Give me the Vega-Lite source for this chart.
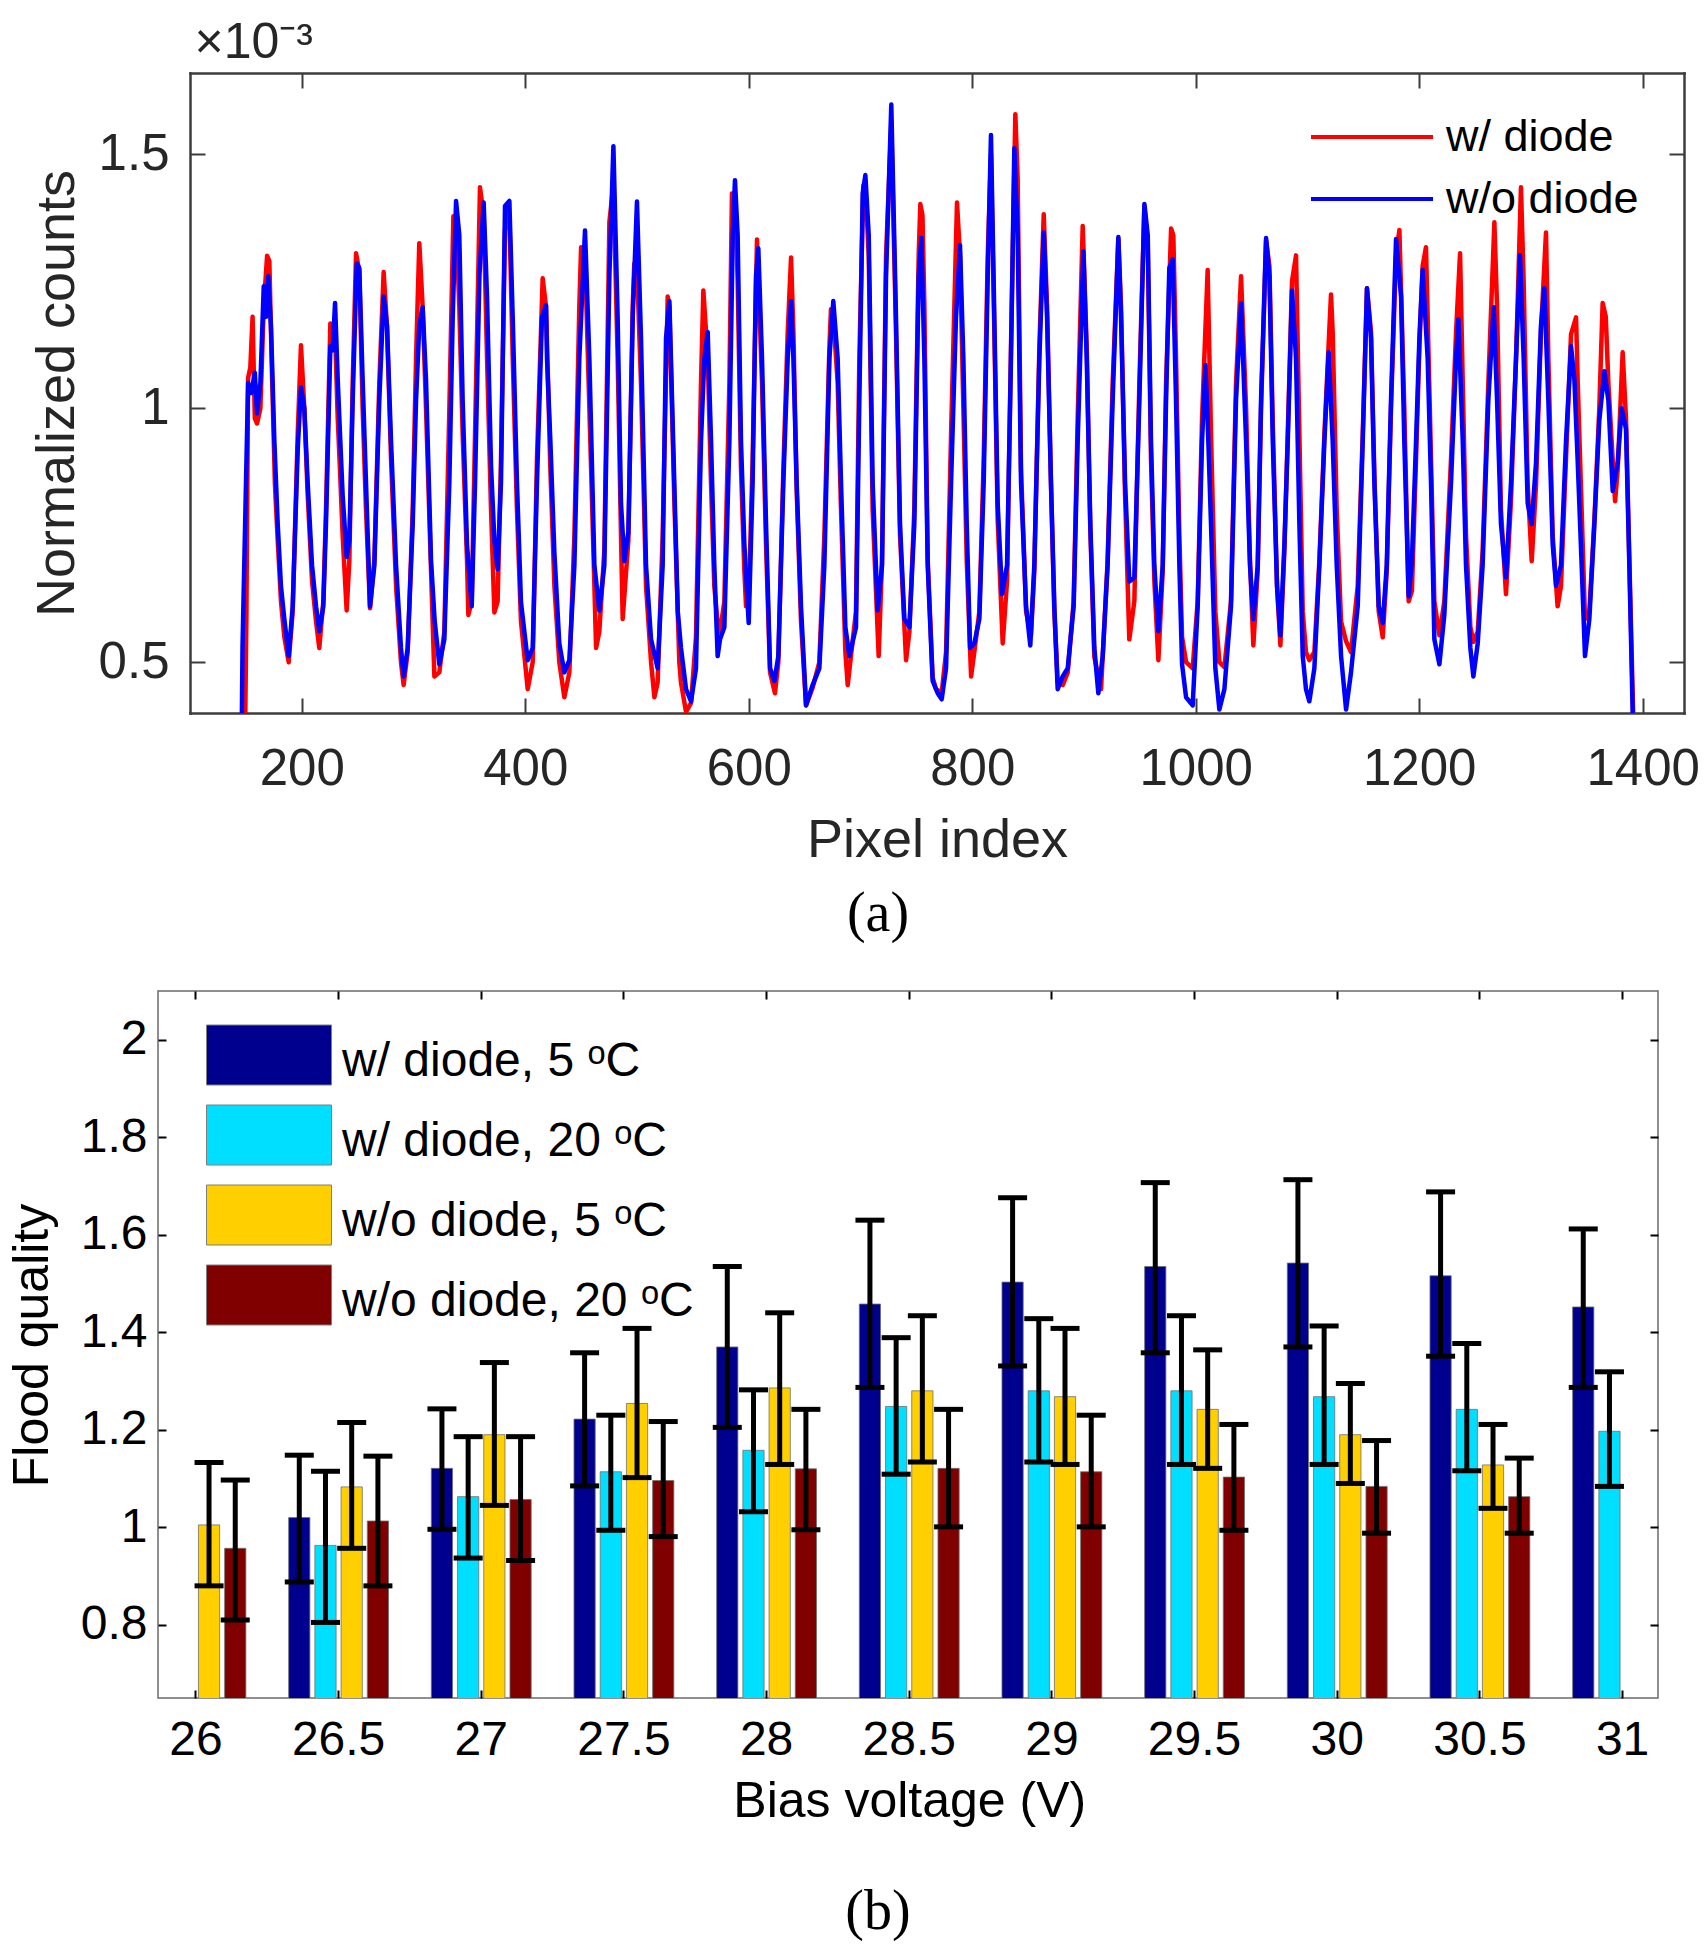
{
  "$schema": "https://vega.github.io/schema/vega-lite/v6.json",
  "background": "white",
  "padding": {"left": 6, "top": 17, "right": 0, "bottom": 0},
  "columns": 1,
  "align": "none",
  "spacing": 47,
  "config": {
    "font": "Liberation Sans",
    "axis": {"domain": false, "grid": false, "labelFont": "Liberation Sans", "titleFont": "Liberation Sans", "titleFontWeight": "normal"},
    "legend": {"padding": 0},
    "title": {"font": "Liberation Serif", "fontWeight": "normal", "fontSize": 56, "color": "black"}
  },
  "resolve": {"scale": {"color": "independent", "x": "independent", "y": "independent"}, "legend": {"color": "independent"}},
  "datasets": {
    "withDiode": [
      {"x":149,"y":0.3},{"x":150.5,"y":0.6},{"x":152,"y":1.06},{"x":154,"y":1.08},{"x":156,"y":1.18},{"x":158,"y":0.98},{"x":160,"y":0.97},{"x":163,"y":1.0},{"x":166,"y":1.2},{"x":169,"y":1.3},{"x":171,"y":1.29},{"x":173,"y":1.1},{"x":176,"y":0.85},{"x":178.5,"y":0.74},{"x":181.4,"y":0.62},{"x":184.4,"y":0.55},{"x":188.3,"y":0.5},{"x":191.9,"y":0.6},{"x":196.4,"y":0.95},{"x":199.3,"y":1.124},{"x":202.3,"y":1.0},{"x":205.3,"y":0.83},{"x":209.2,"y":0.66},{"x":212.8,"y":0.58},{"x":215.7,"y":0.528},{"x":219.3,"y":0.62},{"x":221.7,"y":0.8},{"x":225.6,"y":1.167},{"x":227.7,"y":1.12},{"x":229.8,"y":1.15},{"x":232.2,"y":0.98},{"x":234.2,"y":0.88},{"x":236.6,"y":0.75},{"x":240.2,"y":0.602},{"x":242.6,"y":0.7},{"x":245.6,"y":1.05},{"x":248.6,"y":1.305},{"x":251.5,"y":1.27},{"x":254.5,"y":1.0},{"x":257.5,"y":0.8},{"x":261.1,"y":0.606},{"x":265,"y":0.7},{"x":269.4,"y":1.05},{"x":273.3,"y":1.268},{"x":276.3,"y":1.16},{"x":279.9,"y":0.9},{"x":284.4,"y":0.65},{"x":288.8,"y":0.5},{"x":291.2,"y":0.455},{"x":294.8,"y":0.52},{"x":299.3,"y":0.8},{"x":302.3,"y":1.1},{"x":305.2,"y":1.325},{"x":308.2,"y":1.2},{"x":311.2,"y":1.0},{"x":315.7,"y":0.68},{"x":318.7,"y":0.472},{"x":323.1,"y":0.48},{"x":327.6,"y":0.56},{"x":332.1,"y":1.0},{"x":335.7,"y":1.378},{"x":338.1,"y":1.37},{"x":341,"y":1.2},{"x":344,"y":0.95},{"x":347.9,"y":0.7},{"x":349.1,"y":0.593},{"x":352.1,"y":0.62},{"x":355.1,"y":0.95},{"x":359.5,"y":1.435},{"x":362.8,"y":1.38},{"x":365.8,"y":1.1},{"x":369.4,"y":0.8},{"x":372.4,"y":0.598},{"x":375.3,"y":0.62},{"x":378.3,"y":0.9},{"x":381.9,"y":1.35},{"x":383.7,"y":1.398},{"x":385.8,"y":1.38},{"x":388.8,"y":1.1},{"x":392.6,"y":0.8},{"x":396.2,"y":0.58},{"x":402.2,"y":0.447},{"x":406.7,"y":0.5},{"x":410.5,"y":0.9},{"x":415.6,"y":1.256},{"x":418.6,"y":1.2},{"x":422.5,"y":0.88},{"x":426.1,"y":0.65},{"x":430.5,"y":0.5},{"x":435,"y":0.431},{"x":439.5,"y":0.48},{"x":444,"y":0.75},{"x":448.4,"y":1.2},{"x":450,"y":1.317},{"x":453.5,"y":1.3},{"x":457.4,"y":1.0},{"x":461.9,"y":0.65},{"x":463.4,"y":0.528},{"x":466.3,"y":0.56},{"x":470.8,"y":0.72},{"x":475.3,"y":1.366},{"x":478.9,"y":1.44},{"x":482.7,"y":1.1},{"x":485.7,"y":0.75},{"x":487.2,"y":0.585},{"x":492.3,"y":0.74},{"x":496.2,"y":1.2},{"x":497.6,"y":1.285},{"x":500,"y":1.28},{"x":503.6,"y":1.05},{"x":508.1,"y":0.65},{"x":512.6,"y":0.5},{"x":515.6,"y":0.431},{"x":518.5,"y":0.46},{"x":523,"y":0.75},{"x":527.5,"y":1.22},{"x":529,"y":1.2},{"x":533.4,"y":0.82},{"x":537.9,"y":0.5},{"x":539.4,"y":0.46},{"x":543.9,"y":0.402},{"x":548.4,"y":0.42},{"x":552.8,"y":0.55},{"x":557.3,"y":1.05},{"x":559.4,"y":1.232},{"x":563.3,"y":1.1},{"x":566.3,"y":0.85},{"x":569.2,"y":0.65},{"x":572.2,"y":0.577},{"x":574.3,"y":0.56},{"x":578.2,"y":0.62},{"x":582.7,"y":1.05},{"x":585,"y":1.423},{"x":587.7,"y":1.42},{"x":590.1,"y":1.25},{"x":593.1,"y":0.88},{"x":596.1,"y":0.68},{"x":597.6,"y":0.61},{"x":600,"y":0.62},{"x":603.5,"y":0.9},{"x":607.4,"y":1.332},{"x":611.9,"y":1.05},{"x":615.5,"y":0.73},{"x":619.1,"y":0.48},{"x":623.5,"y":0.439},{"x":626.5,"y":0.5},{"x":631,"y":0.88},{"x":634.9,"y":1.15},{"x":637.9,"y":1.297},{"x":640,"y":1.15},{"x":642.9,"y":0.84},{"x":646.8,"y":0.58},{"x":651.3,"y":0.415},{"x":657.2,"y":0.45},{"x":663.2,"y":0.5},{"x":667.7,"y":0.75},{"x":672.2,"y":1.12},{"x":673.6,"y":1.195},{"x":675.7,"y":1.18},{"x":679.6,"y":1.05},{"x":682.6,"y":0.8},{"x":686.5,"y":0.52},{"x":688.6,"y":0.455},{"x":696,"y":0.6},{"x":699,"y":1.1},{"x":702.6,"y":1.439},{"x":704.4,"y":1.44},{"x":707.4,"y":1.3},{"x":710.9,"y":0.8},{"x":716.3,"y":0.512},{"x":719.3,"y":0.7},{"x":722.9,"y":1.3},{"x":727.6,"y":1.56},{"x":731.8,"y":1.15},{"x":735.4,"y":0.75},{"x":740.8,"y":0.504},{"x":743.8,"y":0.56},{"x":748.2,"y":0.8},{"x":752.1,"y":1.3},{"x":753.6,"y":1.402},{"x":755.5,"y":1.38},{"x":757.2,"y":1.2},{"x":760.2,"y":0.7},{"x":764.6,"y":0.47},{"x":767.6,"y":0.447},{"x":772.7,"y":0.44},{"x":776.6,"y":0.52},{"x":781.1,"y":0.95},{"x":786.4,"y":1.405},{"x":789.1,"y":1.3},{"x":792.1,"y":1.0},{"x":795.1,"y":0.7},{"x":799,"y":0.472},{"x":801.9,"y":0.52},{"x":806.4,"y":0.6},{"x":810.3,"y":0.9},{"x":813.9,"y":1.3},{"x":816.8,"y":1.5},{"x":819.8,"y":1.15},{"x":822.8,"y":0.78},{"x":827.3,"y":0.537},{"x":831.2,"y":0.66},{"x":834.7,"y":1.12},{"x":838.6,"y":1.579},{"x":840.7,"y":1.45},{"x":843.7,"y":0.88},{"x":848.2,"y":0.6},{"x":852.6,"y":0.553},{"x":855.6,"y":0.68},{"x":860.1,"y":1.12},{"x":864,"y":1.382},{"x":867,"y":1.2},{"x":870.5,"y":0.85},{"x":873.5,"y":0.6},{"x":876.5,"y":0.46},{"x":881,"y":0.455},{"x":885.5,"y":0.48},{"x":890.8,"y":0.62},{"x":894.4,"y":0.98},{"x":898.9,"y":1.359},{"x":902.5,"y":1.12},{"x":905.7,"y":0.76},{"x":909.3,"y":0.51},{"x":915.3,"y":0.447},{"x":921.2,"y":0.7},{"x":925.7,"y":1.05},{"x":930.8,"y":1.333},{"x":933.2,"y":1.2},{"x":936.8,"y":0.83},{"x":940.6,"y":0.545},{"x":945.1,"y":0.62},{"x":949.6,"y":1.05},{"x":954.1,"y":1.398},{"x":957.1,"y":1.32},{"x":960,"y":0.9},{"x":963,"y":0.66},{"x":966.6,"y":0.504},{"x":970.5,"y":0.68},{"x":973.5,"y":1.05},{"x":978,"y":1.354},{"x":980,"y":1.34},{"x":982.4,"y":1.1},{"x":985.4,"y":0.75},{"x":987.8,"y":0.55},{"x":991.4,"y":0.5},{"x":997.3,"y":0.488},{"x":1001.8,"y":0.62},{"x":1005.7,"y":0.98},{"x":1010.7,"y":1.272},{"x":1013.7,"y":0.95},{"x":1017.6,"y":0.6},{"x":1021.2,"y":0.5},{"x":1025.7,"y":0.49},{"x":1031.6,"y":0.62},{"x":1036.1,"y":1.05},{"x":1040.6,"y":1.26},{"x":1045.1,"y":1.0},{"x":1048.6,"y":0.7},{"x":1051.6,"y":0.533},{"x":1055.5,"y":0.68},{"x":1058.5,"y":1.0},{"x":1063,"y":1.33},{"x":1066,"y":1.28},{"x":1069,"y":0.97},{"x":1072.8,"y":0.65},{"x":1075.8,"y":0.533},{"x":1079.4,"y":0.72},{"x":1082.4,"y":0.95},{"x":1086.2,"y":1.25},{"x":1089.8,"y":1.301},{"x":1092.8,"y":0.95},{"x":1095.8,"y":0.6},{"x":1098.7,"y":0.52},{"x":1101.7,"y":0.504},{"x":1106.2,"y":0.52},{"x":1110.7,"y":0.7},{"x":1115.2,"y":0.95},{"x":1121.1,"y":1.224},{"x":1122.6,"y":1.15},{"x":1126.2,"y":0.8},{"x":1130.1,"y":0.58},{"x":1134.6,"y":0.541},{"x":1139,"y":0.52},{"x":1145,"y":0.65},{"x":1149.5,"y":0.95},{"x":1153.3,"y":1.236},{"x":1156.9,"y":1.15},{"x":1159.9,"y":0.87},{"x":1163.8,"y":0.6},{"x":1167.4,"y":0.549},{"x":1171,"y":0.68},{"x":1174.8,"y":1.0},{"x":1179.3,"y":1.3},{"x":1182.3,"y":1.351},{"x":1186.7,"y":1.0},{"x":1190.6,"y":0.62},{"x":1193.5,"y":0.64},{"x":1197.2,"y":0.9},{"x":1200.2,"y":1.12},{"x":1203.1,"y":1.28},{"x":1206.1,"y":1.317},{"x":1209,"y":1.05},{"x":1213.6,"y":0.62},{"x":1218.1,"y":0.553},{"x":1222.5,"y":0.62},{"x":1228.5,"y":0.9},{"x":1233,"y":1.15},{"x":1236.6,"y":1.305},{"x":1239,"y":1.05},{"x":1241.9,"y":0.75},{"x":1245.8,"y":0.57},{"x":1248.5,"y":0.54},{"x":1252.4,"y":0.56},{"x":1256.8,"y":0.72},{"x":1261.9,"y":1.05},{"x":1267.3,"y":1.366},{"x":1269.7,"y":1.2},{"x":1273.2,"y":0.8},{"x":1277.7,"y":0.634},{"x":1282.2,"y":0.82},{"x":1286.7,"y":1.1},{"x":1291.1,"y":1.435},{"x":1293.5,"y":1.25},{"x":1297.1,"y":0.85},{"x":1300.7,"y":0.699},{"x":1304.6,"y":0.85},{"x":1309,"y":1.15},{"x":1313.5,"y":1.346},{"x":1315.6,"y":1.1},{"x":1319.5,"y":0.75},{"x":1323.9,"y":0.61},{"x":1326.9,"y":0.65},{"x":1331.4,"y":0.9},{"x":1335.9,"y":1.146},{"x":1340.4,"y":1.179},{"x":1341.9,"y":1.05},{"x":1345.4,"y":0.8},{"x":1348.4,"y":0.585},{"x":1352.3,"y":0.6},{"x":1356.8,"y":0.78},{"x":1361.2,"y":1.0},{"x":1364.2,"y":1.207},{"x":1367,"y":1.18},{"x":1369.3,"y":1.05},{"x":1375.3,"y":0.817},{"x":1377.7,"y":0.88},{"x":1382.1,"y":1.11},{"x":1385.1,"y":0.98},{"x":1388.1,"y":0.7},{"x":1391.5,"y":0.4},{"x":1393.5,"y":0.2}
    ],
    "withoutDiode": [
      {"x":146,"y":0.3},{"x":147,"y":0.53},{"x":152,"y":1.05},{"x":155,"y":1.03},{"x":158,"y":1.07},{"x":160,"y":0.99},{"x":163,"y":1.05},{"x":166,"y":1.24},{"x":168,"y":1.18},{"x":170,"y":1.26},{"x":172.5,"y":1.16},{"x":175.5,"y":0.935},{"x":178.5,"y":0.772},{"x":181.4,"y":0.65},{"x":184.4,"y":0.585},{"x":188.3,"y":0.512},{"x":191.9,"y":0.61},{"x":196.4,"y":0.919},{"x":199.3,"y":1.041},{"x":202.3,"y":1.0},{"x":205.3,"y":0.854},{"x":209.2,"y":0.691},{"x":212.8,"y":0.61},{"x":215.7,"y":0.561},{"x":219.3,"y":0.61},{"x":221.7,"y":0.772},{"x":225.6,"y":1.122},{"x":227.7,"y":1.114},{"x":229.8,"y":1.207},{"x":232.2,"y":1.057},{"x":234.2,"y":0.951},{"x":236.6,"y":0.829},{"x":240.2,"y":0.707},{"x":242.6,"y":0.74},{"x":245.6,"y":1.016},{"x":249.2,"y":1.285},{"x":251.5,"y":1.276},{"x":254.5,"y":1.057},{"x":257.5,"y":0.854},{"x":261.1,"y":0.61},{"x":265,"y":0.691},{"x":269.4,"y":1.016},{"x":273.3,"y":1.22},{"x":276.3,"y":1.163},{"x":279.9,"y":0.935},{"x":284.4,"y":0.691},{"x":288.8,"y":0.528},{"x":291.2,"y":0.472},{"x":294.8,"y":0.528},{"x":299.3,"y":0.772},{"x":302.3,"y":1.016},{"x":305.2,"y":1.163},{"x":308.2,"y":1.199},{"x":311.2,"y":1.057},{"x":315.7,"y":0.7},{"x":319,"y":0.58},{"x":323.1,"y":0.496},{"x":327.6,"y":0.545},{"x":332.1,"y":0.854},{"x":335.1,"y":1.179},{"x":338.1,"y":1.408},{"x":341,"y":1.341},{"x":344,"y":1.016},{"x":347.9,"y":0.732},{"x":352.1,"y":0.61},{"x":355.1,"y":0.854},{"x":359,"y":1.26},{"x":362.8,"y":1.405},{"x":365.8,"y":1.22},{"x":369.4,"y":0.886},{"x":372.4,"y":0.74},{"x":375.3,"y":0.683},{"x":378.3,"y":0.854},{"x":381.9,"y":1.398},{"x":385.8,"y":1.408},{"x":388.8,"y":1.179},{"x":392.6,"y":0.854},{"x":396.2,"y":0.618},{"x":402.2,"y":0.504},{"x":406.7,"y":0.528},{"x":410.5,"y":0.854},{"x":415,"y":1.179},{"x":418.6,"y":1.203},{"x":419.5,"y":1.098},{"x":422.5,"y":0.935},{"x":426.1,"y":0.715},{"x":430.5,"y":0.537},{"x":435,"y":0.48},{"x":439.5,"y":0.504},{"x":444,"y":0.691},{"x":448.4,"y":1.098},{"x":453.5,"y":1.35},{"x":457.4,"y":1.098},{"x":461.9,"y":0.691},{"x":466.3,"y":0.602},{"x":470.8,"y":0.691},{"x":475.3,"y":1.26},{"x":478.9,"y":1.516},{"x":482.7,"y":1.179},{"x":485.7,"y":0.813},{"x":488.7,"y":0.699},{"x":492.3,"y":0.756},{"x":496.2,"y":1.179},{"x":500,"y":1.407},{"x":503.6,"y":1.138},{"x":508.1,"y":0.691},{"x":512.6,"y":0.545},{"x":518.5,"y":0.488},{"x":523,"y":0.691},{"x":526,"y":1.138},{"x":529,"y":1.211},{"x":533.4,"y":0.854},{"x":536.5,"y":0.6},{"x":539.4,"y":0.528},{"x":543.9,"y":0.447},{"x":548.4,"y":0.423},{"x":552.8,"y":0.488},{"x":557.3,"y":0.935},{"x":560.3,"y":1.098},{"x":563.3,"y":1.15},{"x":566.3,"y":0.935},{"x":569.2,"y":0.691},{"x":572.2,"y":0.512},{"x":574.3,"y":0.545},{"x":578.2,"y":0.569},{"x":582.7,"y":0.935},{"x":585.7,"y":1.341},{"x":587.7,"y":1.449},{"x":590.1,"y":1.341},{"x":593.1,"y":0.935},{"x":596.1,"y":0.732},{"x":600,"y":0.577},{"x":603.5,"y":0.854},{"x":606.5,"y":1.26},{"x":608.6,"y":1.315},{"x":611.9,"y":1.098},{"x":615.5,"y":0.772},{"x":619.1,"y":0.488},{"x":623,"y":0.463},{"x":626.5,"y":0.512},{"x":631,"y":0.854},{"x":634.9,"y":1.098},{"x":637.9,"y":1.211},{"x":640,"y":1.098},{"x":642.9,"y":0.854},{"x":646.8,"y":0.61},{"x":651.3,"y":0.415},{"x":657.2,"y":0.455},{"x":663.2,"y":0.488},{"x":667.7,"y":0.691},{"x":672.2,"y":1.098},{"x":675.7,"y":1.211},{"x":679.6,"y":1.098},{"x":682.6,"y":0.854},{"x":686.5,"y":0.569},{"x":690.1,"y":0.512},{"x":696,"y":0.569},{"x":699,"y":1.016},{"x":702,"y":1.423},{"x":704.4,"y":1.459},{"x":707.4,"y":1.341},{"x":710.9,"y":0.854},{"x":715.4,"y":0.602},{"x":719.3,"y":0.691},{"x":722.9,"y":1.26},{"x":727.6,"y":1.598},{"x":731.8,"y":1.179},{"x":735.4,"y":0.772},{"x":739.3,"y":0.585},{"x":743.8,"y":0.569},{"x":748.2,"y":0.772},{"x":752.1,"y":1.26},{"x":754.5,"y":1.335},{"x":757.2,"y":1.098},{"x":760.2,"y":0.691},{"x":764.6,"y":0.463},{"x":769.1,"y":0.439},{"x":772.7,"y":0.427},{"x":776.6,"y":0.488},{"x":781.1,"y":0.854},{"x":785.5,"y":1.179},{"x":789.1,"y":1.321},{"x":792.1,"y":1.098},{"x":795.1,"y":0.772},{"x":798.1,"y":0.528},{"x":801.9,"y":0.537},{"x":806.4,"y":0.585},{"x":810.3,"y":0.854},{"x":813.9,"y":1.26},{"x":816.8,"y":1.538},{"x":819.8,"y":1.179},{"x":822.8,"y":0.813},{"x":826.7,"y":0.634},{"x":831.2,"y":0.691},{"x":834.7,"y":1.098},{"x":837.7,"y":1.512},{"x":840.7,"y":1.341},{"x":843.7,"y":0.854},{"x":848.2,"y":0.61},{"x":852,"y":0.533},{"x":855.6,"y":0.691},{"x":860.1,"y":1.098},{"x":864,"y":1.346},{"x":867,"y":1.179},{"x":870.5,"y":0.854},{"x":873.5,"y":0.61},{"x":876.5,"y":0.447},{"x":881,"y":0.472},{"x":885.5,"y":0.488},{"x":890.8,"y":0.61},{"x":894.4,"y":0.935},{"x":899.5,"y":1.309},{"x":902.5,"y":1.098},{"x":905.7,"y":0.772},{"x":909.3,"y":0.528},{"x":912.9,"y":0.439},{"x":916.8,"y":0.512},{"x":921.2,"y":0.691},{"x":925.7,"y":1.016},{"x":930.8,"y":1.337},{"x":933.2,"y":1.179},{"x":936.8,"y":0.854},{"x":940.6,"y":0.659},{"x":945.1,"y":0.667},{"x":949.6,"y":1.016},{"x":954.1,"y":1.402},{"x":957.1,"y":1.341},{"x":960,"y":0.935},{"x":963,"y":0.691},{"x":966.6,"y":0.561},{"x":970.5,"y":0.691},{"x":973.5,"y":1.016},{"x":976.4,"y":1.276},{"x":979.4,"y":1.293},{"x":982.4,"y":1.016},{"x":985.4,"y":0.691},{"x":987.8,"y":0.496},{"x":991.4,"y":0.431},{"x":997.3,"y":0.415},{"x":1001.8,"y":0.61},{"x":1005.7,"y":0.935},{"x":1008.7,"y":1.085},{"x":1010.7,"y":0.976},{"x":1013.7,"y":0.772},{"x":1017.6,"y":0.488},{"x":1021.2,"y":0.407},{"x":1025.7,"y":0.447},{"x":1031.6,"y":0.61},{"x":1036.1,"y":1.016},{"x":1040.6,"y":1.207},{"x":1045.1,"y":0.935},{"x":1048.6,"y":0.691},{"x":1051.6,"y":0.585},{"x":1055.5,"y":0.691},{"x":1058.5,"y":1.016},{"x":1063,"y":1.335},{"x":1066,"y":1.26},{"x":1069,"y":0.935},{"x":1072.8,"y":0.65},{"x":1075.8,"y":0.553},{"x":1079.4,"y":0.732},{"x":1082.4,"y":0.935},{"x":1086.2,"y":1.232},{"x":1089.8,"y":1.098},{"x":1092.8,"y":0.772},{"x":1095.8,"y":0.512},{"x":1098.7,"y":0.447},{"x":1101.7,"y":0.423},{"x":1106.2,"y":0.488},{"x":1110.7,"y":0.691},{"x":1115.2,"y":0.935},{"x":1119,"y":1.11},{"x":1122.6,"y":0.935},{"x":1126.2,"y":0.691},{"x":1130.1,"y":0.512},{"x":1134.6,"y":0.407},{"x":1139,"y":0.48},{"x":1145,"y":0.61},{"x":1149.5,"y":0.935},{"x":1153.3,"y":1.236},{"x":1156.9,"y":1.138},{"x":1159.9,"y":0.854},{"x":1163.8,"y":0.61},{"x":1167.4,"y":0.577},{"x":1171,"y":0.691},{"x":1174.8,"y":1.016},{"x":1179.3,"y":1.333},{"x":1183.8,"y":1.22},{"x":1186.7,"y":0.935},{"x":1190.6,"y":0.63},{"x":1193.5,"y":0.7},{"x":1197.2,"y":0.935},{"x":1200.2,"y":1.138},{"x":1203.1,"y":1.272},{"x":1207.6,"y":1.098},{"x":1210.6,"y":0.854},{"x":1213.6,"y":0.545},{"x":1218.1,"y":0.496},{"x":1222.5,"y":0.593},{"x":1228.5,"y":0.854},{"x":1233,"y":1.098},{"x":1235.1,"y":1.175},{"x":1239,"y":0.935},{"x":1241.9,"y":0.691},{"x":1245.8,"y":0.528},{"x":1248.5,"y":0.472},{"x":1252.4,"y":0.537},{"x":1256.8,"y":0.691},{"x":1261.9,"y":1.016},{"x":1266.7,"y":1.199},{"x":1269.7,"y":1.016},{"x":1273.2,"y":0.772},{"x":1277.7,"y":0.667},{"x":1282.2,"y":0.854},{"x":1286.7,"y":1.098},{"x":1290.2,"y":1.301},{"x":1293.5,"y":1.098},{"x":1297.1,"y":0.813},{"x":1300.7,"y":0.772},{"x":1304.6,"y":0.894},{"x":1309,"y":1.163},{"x":1312,"y":1.236},{"x":1315.6,"y":1.016},{"x":1319.5,"y":0.732},{"x":1322.5,"y":0.65},{"x":1326.9,"y":0.691},{"x":1331.4,"y":0.935},{"x":1335.9,"y":1.122},{"x":1338.9,"y":1.057},{"x":1341.9,"y":0.894},{"x":1345.4,"y":0.691},{"x":1348.4,"y":0.512},{"x":1352.3,"y":0.585},{"x":1356.8,"y":0.772},{"x":1361.2,"y":0.976},{"x":1365.7,"y":1.073},{"x":1369.3,"y":1.016},{"x":1373.2,"y":0.837},{"x":1377.7,"y":0.894},{"x":1381.2,"y":1.0},{"x":1385.1,"y":0.959},{"x":1388.1,"y":0.691},{"x":1391.1,"y":0.398},{"x":1393,"y":0.2}
    ],
    "flood": [
      {"v":26,"s":"w/o diode, 5 ᵒC","m":1.005,"lo":0.88,"hi":1.133},
      {"v":26,"s":"w/o diode, 20 ᵒC","m":0.957,"lo":0.81,"hi":1.097},
      {"v":26.5,"s":"w/ diode, 5 ᵒC","m":1.02,"lo":0.888,"hi":1.148},
      {"v":26.5,"s":"w/ diode, 20 ᵒC","m":0.963,"lo":0.805,"hi":1.115},
      {"v":26.5,"s":"w/o diode, 5 ᵒC","m":1.083,"lo":0.957,"hi":1.215},
      {"v":26.5,"s":"w/o diode, 20 ᵒC","m":1.013,"lo":0.88,"hi":1.146},
      {"v":27,"s":"w/ diode, 5 ᵒC","m":1.121,"lo":0.996,"hi":1.243},
      {"v":27,"s":"w/ diode, 20 ᵒC","m":1.063,"lo":0.937,"hi":1.186},
      {"v":27,"s":"w/o diode, 5 ᵒC","m":1.19,"lo":1.045,"hi":1.338},
      {"v":27,"s":"w/o diode, 20 ᵒC","m":1.057,"lo":0.932,"hi":1.186},
      {"v":27.5,"s":"w/ diode, 5 ᵒC","m":1.222,"lo":1.085,"hi":1.358},
      {"v":27.5,"s":"w/ diode, 20 ᵒC","m":1.114,"lo":0.994,"hi":1.23},
      {"v":27.5,"s":"w/o diode, 5 ᵒC","m":1.254,"lo":1.102,"hi":1.408},
      {"v":27.5,"s":"w/o diode, 20 ᵒC","m":1.096,"lo":0.981,"hi":1.217},
      {"v":28,"s":"w/ diode, 5 ᵒC","m":1.37,"lo":1.205,"hi":1.535},
      {"v":28,"s":"w/ diode, 20 ᵒC","m":1.158,"lo":1.032,"hi":1.282},
      {"v":28,"s":"w/o diode, 5 ᵒC","m":1.286,"lo":1.129,"hi":1.44},
      {"v":28,"s":"w/o diode, 20 ᵒC","m":1.12,"lo":0.995,"hi":1.242},
      {"v":28.5,"s":"w/ diode, 5 ᵒC","m":1.458,"lo":1.287,"hi":1.63},
      {"v":28.5,"s":"w/ diode, 20 ᵒC","m":1.248,"lo":1.109,"hi":1.389},
      {"v":28.5,"s":"w/o diode, 5 ᵒC","m":1.28,"lo":1.134,"hi":1.434},
      {"v":28.5,"s":"w/o diode, 20 ᵒC","m":1.121,"lo":1.001,"hi":1.242},
      {"v":29,"s":"w/ diode, 5 ᵒC","m":1.503,"lo":1.331,"hi":1.676},
      {"v":29,"s":"w/ diode, 20 ᵒC","m":1.28,"lo":1.134,"hi":1.428},
      {"v":29,"s":"w/o diode, 5 ᵒC","m":1.268,"lo":1.129,"hi":1.408},
      {"v":29,"s":"w/o diode, 20 ᵒC","m":1.114,"lo":1.001,"hi":1.23},
      {"v":29.5,"s":"w/ diode, 5 ᵒC","m":1.535,"lo":1.358,"hi":1.707},
      {"v":29.5,"s":"w/ diode, 20 ᵒC","m":1.28,"lo":1.129,"hi":1.434},
      {"v":29.5,"s":"w/o diode, 5 ᵒC","m":1.242,"lo":1.121,"hi":1.364},
      {"v":29.5,"s":"w/o diode, 20 ᵒC","m":1.103,"lo":0.994,"hi":1.211},
      {"v":30,"s":"w/ diode, 5 ᵒC","m":1.542,"lo":1.37,"hi":1.713},
      {"v":30,"s":"w/ diode, 20 ᵒC","m":1.268,"lo":1.129,"hi":1.413},
      {"v":30,"s":"w/o diode, 5 ᵒC","m":1.19,"lo":1.09,"hi":1.295},
      {"v":30,"s":"w/o diode, 20 ᵒC","m":1.084,"lo":0.988,"hi":1.178},
      {"v":30.5,"s":"w/ diode, 5 ᵒC","m":1.516,"lo":1.351,"hi":1.688},
      {"v":30.5,"s":"w/ diode, 20 ᵒC","m":1.242,"lo":1.116,"hi":1.377},
      {"v":30.5,"s":"w/o diode, 5 ᵒC","m":1.128,"lo":1.039,"hi":1.211},
      {"v":30.5,"s":"w/o diode, 20 ᵒC","m":1.063,"lo":0.988,"hi":1.142},
      {"v":31,"s":"w/ diode, 5 ᵒC","m":1.452,"lo":1.287,"hi":1.612},
      {"v":31,"s":"w/ diode, 20 ᵒC","m":1.197,"lo":1.084,"hi":1.319}
    ]
  },
  "concat": [
    {
      "width": 1526,
      "height": 640,
      "view": {"stroke": null},
      "title": {"text": "(a)", "orient": "bottom", "frame": "group", "offset": 20, "dx": -43},
      "layer": [
        {
          "data": {"name": "withDiode"},
          "mark": {"type": "line", "clip": true, "strokeWidth": 4.5, "strokeJoin": "round"},
          "encoding": {
            "x": {"field": "x", "type": "quantitative", "scale": {"domain": [100, 1437], "range": [32, 1526], "nice": false, "zero": false},
              "axis": {"orient": "bottom", "values": [200, 400, 600, 800, 1000, 1200, 1400], "format": "d", "domain": true, "domainColor": "#3c3c3c", "domainWidth": 2.5, "domainCap": "square", "tickSize": -15, "tickWidth": 2, "tickColor": "#3c3c3c", "labelFontSize": 51, "labelPadding": 46, "labelColor": "#262626", "labelFlush": false, "labelOverlap": false, "title": "Pixel index", "titleFontSize": 54, "titleColor": "#262626", "titleY": 100}},
            "y": {"field": "y", "type": "quantitative", "scale": {"domain": [0.4, 1.66], "nice": false, "zero": false},
              "axis": {"orient": "left", "offset": -32, "values": [0.5, 1, 1.5], "format": "~g", "domain": true, "domainColor": "#3c3c3c", "domainWidth": 2.5, "domainCap": "square", "tickSize": -15, "tickWidth": 2, "tickColor": "#3c3c3c", "labelFontSize": 51, "labelPadding": 36, "labelColor": "#262626", "labelFlush": false, "labelOverlap": false, "title": "Normalized counts", "titleFontSize": 54, "titleColor": "#262626", "titleAngle": -90, "titleBaseline": "middle", "titleAlign": "center", "titleX": -133, "titleY": 320}},
            "color": {"datum": "w/ diode", "type": "nominal",
              "scale": {"domain": ["w/ diode", "w/o diode"], "range": ["#ff0000", "#0000ff"]},
              "legend": {"orient": "none", "legendX": 1151, "legendY": 41, "title": null, "symbolType": "stroke", "symbolSize": 14884, "symbolStrokeWidth": 4, "clipHeight": 46, "rowPadding": 16, "labelFontSize": 45, "labelOffset": 11, "labelColor": "black", "labelLimit": 400, "padding": 0}}
          }
        },
        {
          "data": {"name": "withoutDiode"},
          "mark": {"type": "line", "clip": true, "strokeWidth": 4.5, "strokeJoin": "round"},
          "encoding": {
            "x": {"field": "x", "type": "quantitative",
              "axis": {"orient": "top", "values": [200, 400, 600, 800, 1000, 1200, 1400], "domain": true, "domainColor": "#3c3c3c", "domainWidth": 2.5, "domainCap": "square", "tickSize": -15, "tickWidth": 2, "tickColor": "#3c3c3c", "labels": false, "title": "×10⁻³", "titleFontSize": 50, "titleColor": "#262626", "titleAnchor": "start", "titleAlign": "left", "titleAngle": 0, "titleBaseline": "alphabetic", "titleX": 36, "titleY": -16}},
            "y": {"field": "y", "type": "quantitative",
              "axis": {"orient": "right", "values": [0.5, 1, 1.5], "domain": true, "domainColor": "#3c3c3c", "domainWidth": 2.5, "domainCap": "square", "tickSize": -15, "tickWidth": 2, "tickColor": "#3c3c3c", "labels": false, "title": null}},
            "color": {"datum": "w/o diode", "type": "nominal"}
          }
        }
      ],
      "resolve": {"axis": {"x": "independent", "y": "independent"}}
    },
    {
      "width": 1500,
      "height": 707,
      "view": {"stroke": "#6b6b6b", "strokeWidth": 1.5},
      "title": {"text": "(b)", "orient": "bottom", "frame": "group", "offset": 59, "dx": -30},
      "data": {"name": "flood"},
      "layer": [
        {
          "mark": {"type": "bar", "clip": true, "stroke": "#707070", "strokeWidth": 0.8},
          "encoding": {
            "x": {"field": "v", "type": "ordinal", "scale": {"range": [-12, 1514.5], "paddingInner": 0.3, "paddingOuter": 0},
              "axis": {"orient": "bottom", "labelAngle": 0, "tickSize": -8, "tickWidth": 2, "tickColor": "black", "labelFontSize": 48, "labelPadding": 26, "labelColor": "black", "title": "Bias voltage (V)", "titleFontSize": 50, "titleColor": "black", "titleY": 78}},
            "xOffset": {"field": "s", "type": "nominal", "scale": {"domain": ["w/ diode, 5 ᵒC", "w/ diode, 20 ᵒC", "w/o diode, 5 ᵒC", "w/o diode, 20 ᵒC"], "paddingInner": 0.19, "paddingOuter": 0}},
            "y": {"field": "m", "type": "quantitative", "scale": {"domain": [0.65, 2.1], "nice": false, "zero": false},
              "axis": {"orient": "left", "values": [0.8, 1, 1.2, 1.4, 1.6, 1.8, 2], "format": "~g", "tickSize": -8, "tickWidth": 2, "tickColor": "black", "labelFontSize": 48, "labelPadding": 19, "labelColor": "black", "labelFlush": false, "labelOverlap": false, "title": "Flood quality", "titleFontSize": 50, "titleColor": "black", "titleAngle": -90, "titleBaseline": "middle", "titleAlign": "center", "titleX": -126, "titleY": 354}},
            "color": {"field": "s", "type": "nominal",
              "scale": {"domain": ["w/ diode, 5 ᵒC", "w/ diode, 20 ᵒC", "w/o diode, 5 ᵒC", "w/o diode, 20 ᵒC"], "range": ["#00008f", "#00dfff", "#ffcf00", "#800000"]},
              "legend": {"orient": "none", "legendX": 48, "legendY": 33, "title": null, "symbolType": "M-1,-0.48H1V0.48H-1Z", "symbolSize": 15625, "symbolStrokeColor": "#7f7f7f", "symbolStrokeWidth": 1, "symbolOpacity": 1, "clipHeight": 62, "rowPadding": 18, "labelFontSize": 48, "labelOffset": 10, "labelColor": "black", "labelLimit": 500, "padding": 0,
                "encode": {"labels": {"update": {"dy": {"value": 7}}}}}}
          }
        },
        {
          "mark": {"type": "rule", "strokeWidth": 5, "color": "black"},
          "encoding": {
            "x": {"field": "v", "type": "ordinal",
              "axis": {"orient": "top", "tickSize": -8, "tickWidth": 2, "tickColor": "black", "labels": false, "title": null}},
            "xOffset": {"field": "s", "type": "nominal"},
            "y": {"field": "lo", "type": "quantitative",
              "axis": {"orient": "right", "values": [0.8, 1, 1.2, 1.4, 1.6, 1.8, 2], "tickSize": -8, "tickWidth": 2, "tickColor": "black", "labels": false, "title": null}},
            "y2": {"field": "hi"}
          }
        },
        {
          "mark": {"type": "tick", "thickness": 5, "size": 29, "color": "black", "opacity": 1},
          "encoding": {
            "x": {"field": "v", "type": "ordinal", "axis": null},
            "xOffset": {"field": "s", "type": "nominal"},
            "y": {"field": "lo", "type": "quantitative", "axis": null}
          }
        },
        {
          "mark": {"type": "tick", "thickness": 5, "size": 29, "color": "black", "opacity": 1},
          "encoding": {
            "x": {"field": "v", "type": "ordinal", "axis": null},
            "xOffset": {"field": "s", "type": "nominal"},
            "y": {"field": "hi", "type": "quantitative", "axis": null}
          }
        }
      ],
      "resolve": {"axis": {"x": "independent", "y": "independent"}}
    }
  ]
}
